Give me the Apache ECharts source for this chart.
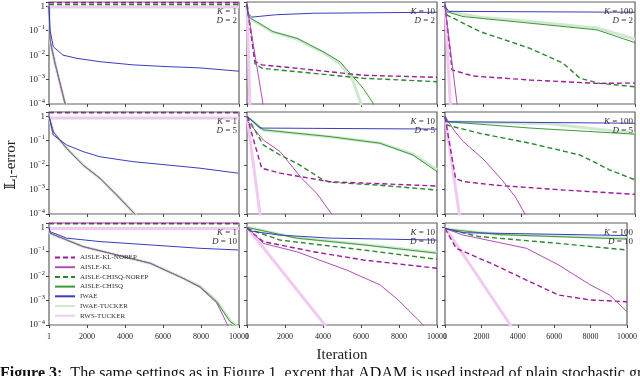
<!DOCTYPE html>
<html>
<head>
<meta charset="utf-8">
<script src="https://cdn.jsdelivr.net/npm/echarts@6/dist/echarts.min.js"></script>
<style>
  html, body { margin: 0; padding: 0; background: #fff; }
  #chart { width: 640px; height: 376px; }
</style>
</head>
<body>
<div id="chart"></div>
<script>
// panels: rows D = 2, 5, 10 ; columns K = 1, 10, 100
const kValues = [1, 10, 100];
const dValues = [2, 5, 10];
const xTicks = [0, 2000, 4000, 6000, 8000, 10000];
const seriesNames = ['AISLE-KL-NOREP', 'AISLE-KL', 'AISLE-CHISQ-NOREP', 'AISLE-CHISQ', 'IWAE', 'IWAE-TUCKER', 'RWS-TUCKER'];

// [iteration, L1 error] per panel (p = row * 3 + col)
const klNorep = [
  [[1, 1.4], [10000, 1.4]],
  [[1, 1.2], [421, 0.0054], [789, 0.004], [2632, 0.0029], [6105, 0.0015], [10000, 0.00124]],
  [[1, 1.2], [368, 0.0025], [1474, 0.0014], [4474, 0.00096], [8000, 0.0007], [10000, 0.00072]],
  [[1, 1.45], [10000, 1.45]],
  [[1, 1.0], [421, 0.067], [774, 0.0075], [1737, 0.0047], [4368, 0.0021], [10000, 0.0014]],
  [[1, 0.9], [560, 0.0028], [1000, 0.0021], [2721, 0.0015], [6210, 0.00096], [10000, 0.00064]],
  [[1, 1.45], [10000, 1.45]],
  [[1, 0.9], [858, 0.26], [3489, 0.1], [6123, 0.046], [10000, 0.021]],
  [[1, 0.9], [616, 0.138], [2721, 0.029], [4474, 0.0069], [6228, 0.0017], [7984, 0.00106], [10000, 0.0009]]
];
const kl = [
  [[1, 1.0], [53, 0.042], [316, 0.0048], [842, 0.0001], [1100, 0.00001]],
  [[1, 1.0], [842, 0.0001], [1000, 0.00003]],
  [[1, 1.0], [637, 0.0001], [800, 0.00001]],
  [[1, 1.0], [226, 0.23], [932, 0.049], [1805, 0.01], [2684, 0.0029], [3563, 0.0006], [4500, 0.0001], [4700, 0.00005]],
  [[1, 1.0], [53, 0.6], [858, 0.107], [1737, 0.036], [2879, 0.0029], [3668, 0.0007], [4458, 0.0001], [4600, 0.00005]],
  [[1, 1.0], [500, 0.25], [963, 0.092], [2000, 0.018], [3000, 0.0025], [3700, 0.0005], [4211, 0.0001], [4500, 0.00003]],
  [[1, 1.0], [53, 0.57], [1805, 0.16], [3563, 0.074], [5316, 0.034], [7068, 0.0081], [7947, 0.0035], [8826, 0.0008], [9400, 0.0001], [9700, 0.00003]],
  [[1, 1.0], [858, 0.22], [2616, 0.1], [5247, 0.0178], [7000, 0.0044], [7879, 0.0012], [8579, 0.00035], [9279, 0.0001], [9500, 0.00005]],
  [[1, 0.9], [963, 0.49], [4474, 0.138], [6228, 0.029], [7984, 0.0044], [9037, 0.0017], [10000, 0.00035]]
];
const chisqNorep = [
  [[1, 1.18], [10000, 1.18]],
  [[1, 1.2], [421, 0.0045], [789, 0.0029], [2632, 0.0021], [6105, 0.00113], [10000, 0.00082]],
  [[1, 1.0], [105, 0.44], [1842, 0.092], [4474, 0.019], [6210, 0.0047], [7105, 0.00113], [8158, 0.0007], [10000, 0.00051]],
  [[1, 1.38], [10000, 1.38]],
  [[1, 1.0], [858, 0.067], [1737, 0.026], [2616, 0.012], [4000, 0.0025], [4368, 0.002], [7000, 0.0015], [10000, 0.00096]],
  [[1, 1.0], [89, 0.44], [1842, 0.2], [4474, 0.079], [7105, 0.026], [8684, 0.0063], [10000, 0.0025]],
  [[1, 1.38], [10000, 1.38]],
  [[1, 0.9], [1737, 0.3], [6123, 0.118], [10000, 0.049]],
  [[1, 0.9], [1842, 0.42], [6228, 0.22], [10000, 0.118]]
];
const chisq = [
  [[1, 1.0], [53, 0.04], [316, 0.0046], [860, 0.0001], [1100, 0.00001]],
  [[1, 1.0], [53, 0.38], [263, 0.30], [1368, 0.092], [2632, 0.049], [4000, 0.0139], [4895, 0.0054], [5579, 0.00132], [6105, 0.00045], [6632, 0.00011], [7000, 0.00001]],
  [[1, 1.0], [105, 0.6], [947, 0.38], [1842, 0.325], [4474, 0.203], [7105, 0.127], [8000, 0.108], [10000, 0.0325]],
  [[1, 1.0], [226, 0.23], [932, 0.048], [1805, 0.0098], [2684, 0.0029], [3563, 0.0006], [4526, 0.0001], [4800, 0.00004]],
  [[1, 1.0], [858, 0.28], [4368, 0.147], [7000, 0.079], [8737, 0.026], [10000, 0.0054]],
  [[1, 1.0], [100, 0.6], [4474, 0.33], [10000, 0.185]],
  [[1, 1.0], [53, 0.57], [1805, 0.162], [3563, 0.074], [5316, 0.034], [7068, 0.0081], [7947, 0.0037], [8826, 0.0009], [9526, 0.00014], [9790, 0.0001], [10000, 0.00007]],
  [[1, 1.0], [2616, 0.36], [6123, 0.19], [10000, 0.087]],
  [[1, 0.85], [3000, 0.5], [10000, 0.33]]
];
const iwae = [
  [[1, 1.0], [53, 0.107], [226, 0.022], [737, 0.01], [1474, 0.0074], [2684, 0.0054], [4421, 0.004], [6210, 0.0034], [7947, 0.003], [10000, 0.0022]],
  [[1, 1.0], [60, 0.5], [250, 0.36], [1500, 0.45], [3500, 0.52], [10000, 0.57]],
  [[1, 1.0], [200, 0.62], [10000, 0.57]],
  [[1, 1.0], [226, 0.17], [932, 0.067], [1789, 0.036], [2684, 0.022], [4421, 0.0139], [6210, 0.0102], [7947, 0.0075], [9947, 0.0047]],
  [[1, 1.0], [684, 0.33], [10000, 0.30]],
  [[1, 1.0], [100, 0.6], [10000, 0.52]],
  [[1, 1.0], [53, 0.66], [932, 0.36], [2684, 0.26], [5316, 0.19], [7947, 0.138], [9947, 0.118]],
  [[1, 1.0], [200, 0.7], [1700, 0.48], [4400, 0.36], [10000, 0.30]],
  [[1, 0.9], [1000, 0.6], [10000, 0.46]]
];
const iwaeTucker = [
  [[1, 1.0], [53, 0.04], [316, 0.0047], [850, 0.0001], [1100, 0.00001]],
  [[1, 1.0], [53, 0.36], [263, 0.28], [1368, 0.088], [2632, 0.046], [4000, 0.013], [4895, 0.0045], [5579, 0.0009], [6000, 0.0001], [6300, 0.00002]],
  [[1, 1.0], [105, 0.62], [1842, 0.36], [4474, 0.24], [7105, 0.15], [8000, 0.13], [10000, 0.045]],
  [[1, 1.0], [226, 0.23], [932, 0.048], [1805, 0.0098], [2684, 0.0029], [3563, 0.0006], [4526, 0.0001], [4800, 0.00004]],
  [[1, 1.0], [858, 0.27], [4368, 0.145], [7000, 0.08], [8737, 0.028], [10000, 0.0065]],
  [[1, 1.0], [100, 0.6], [5500, 0.5], [10000, 0.2]],
  [[1, 1.0], [53, 0.57], [1805, 0.162], [3563, 0.074], [5316, 0.034], [7068, 0.0082], [7947, 0.0038], [8826, 0.00095], [9526, 0.00015], [9800, 0.0001], [10000, 0.00007]],
  [[1, 1.0], [2616, 0.37], [6123, 0.2], [10000, 0.09]],
  [[1, 0.85], [3000, 0.52], [10000, 0.36]]
];
const rwsTucker = [
  [[1, 0.93], [10000, 0.93]],
  [[1, 1.0], [150, 0.0001], [200, 0.00001]],
  [[1, 1.0], [280, 0.0001], [350, 0.00001]],
  [[1, 0.85], [10000, 0.85]],
  [[1, 1.0], [684, 0.0001], [750, 0.00004]],
  [[1, 1.0], [753, 0.0001], [820, 0.00004]],
  [[1, 0.9], [10000, 0.9]],
  [[1, 1.0], [4105, 0.0001], [4300, 0.00005]],
  [[1, 1.0], [3595, 0.0001], [3800, 0.00005]]
];

const serif = '"Liberation Serif", "DejaVu Serif", serif';
const gridLeft = [49, 247, 445];
const gridTop = [2, 112, 223];
const gw = 190, gh = 102;

const styles = {
  'AISLE-KL-NOREP': { color: '#9b1c9b', width: 1.4, type: [5, 3] },
  'AISLE-KL': { color: '#b24cb8', width: 1, type: 'solid' },
  'AISLE-CHISQ-NOREP': { color: '#2b872b', width: 1.4, type: [5, 3] },
  'AISLE-CHISQ': { color: '#3a9a3a', width: 1, type: 'solid' },
  'IWAE': { color: '#3c3cc0', width: 1, type: 'solid' },
  'IWAE-TUCKER': { color: '#cfe8cf', width: 3, type: 'solid' },
  'RWS-TUCKER': { color: '#f2c9f0', width: 3, type: 'solid' }
};
// drawing order (light lines underneath)
const drawOrder = [
  ['IWAE-TUCKER', iwaeTucker], ['RWS-TUCKER', rwsTucker],
  ['AISLE-CHISQ-NOREP', chisqNorep], ['AISLE-KL-NOREP', klNorep],
  ['AISLE-CHISQ', chisq], ['AISLE-KL', kl], ['IWAE', iwae]
];

const grids = [], xAxes = [], yAxes = [], series = [], graphics = [];
for (let r = 0; r < 3; r++) {
  for (let c = 0; c < 3; c++) {
    const p = r * 3 + c;
    grids.push({
      left: gridLeft[c], top: gridTop[r], width: gw, height: gh,
      show: true, borderColor: '#606060', borderWidth: 1.2, backgroundColor: '#fff'
    });
    xAxes.push({
      type: 'value', gridIndex: p, min: 0, max: 10000, interval: 2000,
      axisLine: { show: false },
      axisTick: { show: true, length: 3, lineStyle: { color: '#444' } },
      splitLine: { show: false },
      axisLabel: {
        show: r === 2, margin: 8, fontSize: 8, fontFamily: serif, color: '#222',
        formatter: v => (v === 0 ? '1' : String(v))
      }
    });
    yAxes.push({
      type: 'log', logBase: 10, gridIndex: p, min: 1e-4, max: 1.5,
      axisLine: { show: false },
      axisTick: { show: true, length: 3, lineStyle: { color: '#444' } },
      splitLine: { show: false },
      minorTick: { show: false },
      axisLabel: {
        show: c === 0, margin: 4, fontSize: 9, fontFamily: serif, color: '#222',
        formatter: v => {
          const l = Math.log10(v), e = Math.round(l);
          if (Math.abs(l - e) > 0.01) return '';
          return e === 0 ? '1' : '10{s|\u2212' + (-e) + '}';
        },
        rich: { s: { fontSize: 6.5, fontFamily: serif, color: '#222', padding: [0, 0, 6, 0] } }
      }
    });
    drawOrder.forEach(([name, arr]) => {
      const st = styles[name];
      series.push({
        name, type: 'line', xAxisIndex: p, yAxisIndex: p,
        data: arr[p], symbol: 'none', clip: true, silent: true,
        lineStyle: { color: st.color, width: st.width, type: st.type },
        itemStyle: { color: st.color }
      });
    });
    const right = gridLeft[c] + gw - 2;
    graphics.push({
      type: 'text', x: right, y: gridTop[r] + 10, z: 50,
      style: {
        text: '{i|K} = ' + kValues[c], align: 'right', verticalAlign: 'middle',
        font: '9px ' + serif, fill: '#333', rich: { i: { fontStyle: 'italic', fontSize: 9, fontFamily: serif } }
      }
    });
    graphics.push({
      type: 'text', x: right, y: gridTop[r] + 19, z: 50,
      style: {
        text: '{i|D} = ' + dValues[r], align: 'right', verticalAlign: 'middle',
        font: '9px ' + serif, fill: '#333', rich: { i: { fontStyle: 'italic', fontSize: 9, fontFamily: serif } }
      }
    });
  }
}

graphics.push({
  type: 'text', x: 342, y: 355,
  style: { text: 'Iteration', font: '15px ' + serif, fill: '#222', align: 'center', verticalAlign: 'middle' }
});
graphics.push({
  type: 'text', x: 11, y: 165, rotation: Math.PI / 2,
  style: {
    text: '\u{1D543}{s|1}-error', font: '15px ' + serif, fill: '#222', align: 'center', verticalAlign: 'middle',
    rich: { s: { fontSize: 10, fontFamily: serif, padding: [6, 0, 0, 0] } }
  }
});
graphics.push({
  type: 'text', x: 0, y: 366,
  style: {
    text: '{b|Figure 3:}  The same settings as in Figure 1, except that ADAM is used instead of plain stochastic gradient descent.',
    font: '16px ' + serif, fill: '#111', align: 'left', verticalAlign: 'top',
    rich: { b: { fontWeight: 'bold', fontSize: 16, fontFamily: serif } }
  }
});

const chart = echarts.init(document.getElementById('chart'), null, { renderer: 'canvas' });
chart.setOption({
  animation: false,
  backgroundColor: '#fff',
  grid: grids,
  xAxis: xAxes,
  yAxis: yAxes,
  legend: {
    data: seriesNames, orient: 'vertical', left: 54, top: 254,
    itemWidth: 20, itemHeight: 7, itemGap: 2.7, padding: 0,
    itemStyle: { opacity: 0 },
    textStyle: { fontSize: 7, fontFamily: serif, color: '#333' },
    selectedMode: false
  },
  series,
  graphic: graphics
});
</script>
</body>
</html>
